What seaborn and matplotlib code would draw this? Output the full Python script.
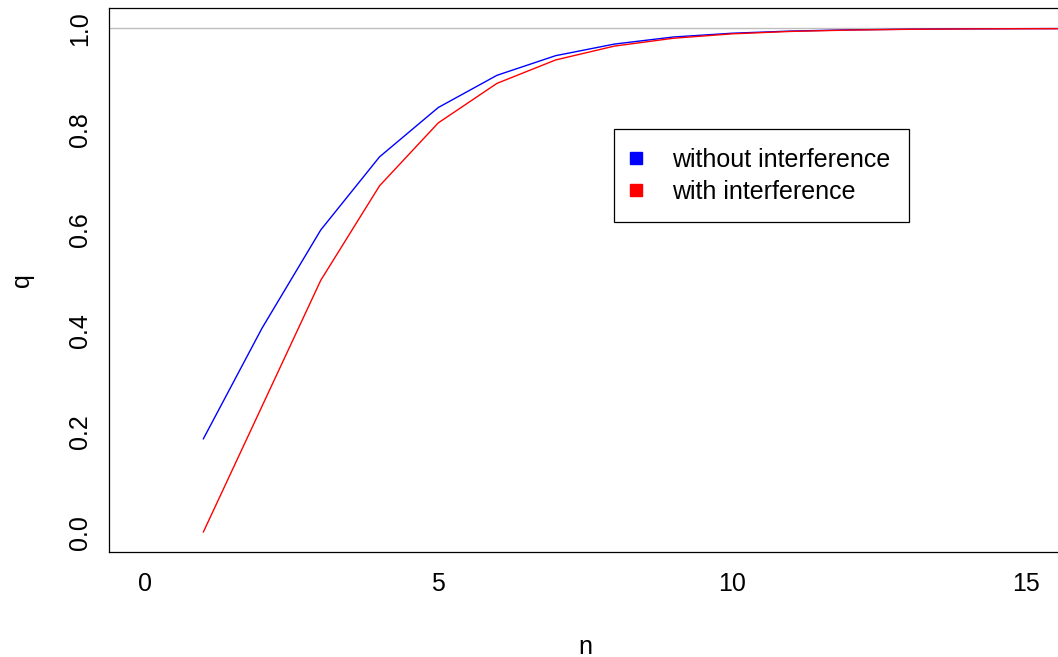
import numpy as np
import pandas as pd
import matplotlib
matplotlib.use("Agg")
import matplotlib.pyplot as plt
from matplotlib.lines import Line2D
import seaborn as sns

# probability q of success after n steps
n_values = list(range(1, 21))
q_without = [0.185, 0.405, 0.600, 0.745, 0.843, 0.907, 0.946, 0.969, 0.983,
             0.9905, 0.9948, 0.9972, 0.9985, 0.9992, 0.9996, 0.9998, 0.9999,
             0.99995, 0.99997, 0.99999]
q_with = [0.0, 0.25, 0.50, 0.6875, 0.8125, 0.891, 0.9375, 0.965, 0.9805,
          0.9893, 0.9941, 0.9968, 0.9983, 0.9991, 0.9995, 0.9997, 0.9999,
          0.99993, 0.99996, 0.99998]
series_names = ["without interference", "with interference"]
series_colors = ["blue", "red"]

x_ticks = [0, 5, 10, 15]
y_ticks = [0.0, 0.2, 0.4, 0.6, 0.8, 1.0]
y_tick_labels = ["0.0", "0.2", "0.4", "0.6", "0.8", "1.0"]

df = pd.DataFrame({
    "n": n_values * 2,
    "q": q_without + q_with,
    "series": [series_names[0]] * len(n_values) + [series_names[1]] * len(n_values),
})

sns.set_theme(style="white")
plt.rcParams["font.family"] = ["Liberation Sans", "DejaVu Sans"]
plt.rcParams["text.color"] = "black"
plt.rcParams["axes.labelcolor"] = "black"

W, H = 1058, 657
fig = plt.figure(figsize=(W / 100, H / 100), dpi=100)
left_px, right_px, top_px, bottom_px = 109.3, 1060.9, 8.3, 552.3
ax = fig.add_axes([left_px / W, 1 - bottom_px / H,
                   (right_px - left_px) / W, (bottom_px - top_px) / H])

ax.axhline(1.0, color="#BEBEBE", lw=1.0, zorder=1)
sns.lineplot(data=df, x="n", y="q", hue="series",
             palette=dict(zip(series_names, series_colors)),
             hue_order=series_names, linewidth=1.0, legend=False, ax=ax,
             zorder=2)

ax.set_xlim(-0.6, 15.6)
ax.set_ylim(-0.04, 1.04)
ax.set_xticks(x_ticks)
ax.set_xticklabels([str(t) for t in x_ticks], fontsize=18)
ax.set_yticks(y_ticks)
ax.set_yticklabels(y_tick_labels, fontsize=18, rotation=90, va="center")
ax.tick_params(axis="both", direction="out", length=7.2, width=0.8,
               color="#333333", labelcolor="black")
ax.tick_params(axis="x", pad=7)
ax.tick_params(axis="y", pad=5)
for s in ax.spines.values():
    s.set_color("black")
    s.set_linewidth(0.9)

ax.set_xlabel("n", fontsize=18, labelpad=28)
ax.set_ylabel("q", fontsize=18, labelpad=25)

handles = [Line2D([], [], marker="s", linestyle="none", markersize=8.4,
                  markerfacecolor=c, markeredgecolor=c) for c in series_colors]
leg = ax.legend(handles, series_names, loc="upper left",
                bbox_to_anchor=(614.3 / W, 1 - 129.3 / H),
                bbox_transform=fig.transFigure, borderaxespad=0,
                fontsize=18, frameon=True, fancybox=False, framealpha=1,
                edgecolor="black", borderpad=0.75, handlelength=0.2,
                handletextpad=1.34, labelspacing=0.3)
leg.get_frame().set_linewidth(0.9)
for t in leg.get_texts():
    t.set_color("black")

fig.savefig("out.png", dpi=100)
